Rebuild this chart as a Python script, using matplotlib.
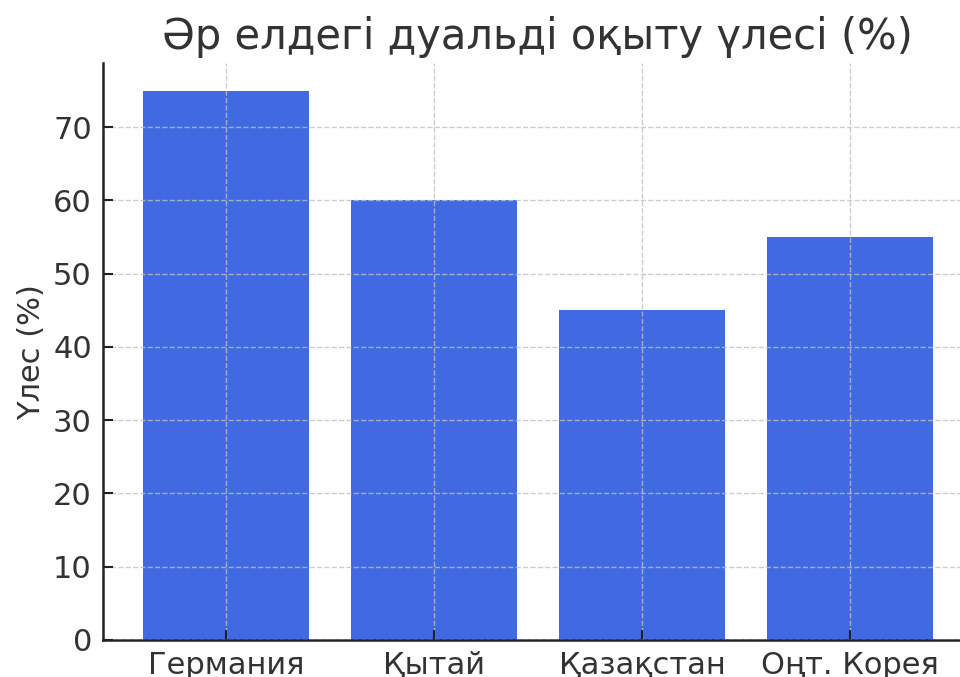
import matplotlib
matplotlib.use("Agg")
import matplotlib.pyplot as plt

# data
countries = ["Германия", "Қытай", "Қазақстан", "Оңт. Корея"]
shares = [75, 60, 45, 55]

plt.rcParams['font.family'] = ['DejaVu Sans']

fig = plt.figure(figsize=(9.6, 6.77), dpi=100)
ax = fig.add_axes([0.1073, 0.0547, 0.906, 0.852])

ax.bar(countries, shares, color='#4169E1', width=0.8, zorder=1)

ax.set_title("Әр елдегі дуальді оқыту үлесі (%)", fontsize=30, color='#333333', pad=10)
ax.set_ylabel("Үлес (%)", fontsize=22, color='#333333', labelpad=5)
ax.tick_params(axis='both', labelsize=22, colors='#222222', labelcolor='#333333',
               direction='in', length=7, width=1.5, pad=8)
ax.set_axisbelow(False)
ax.grid(True, linestyle='--', color='#c0c0c0', linewidth=1, alpha=0.8, zorder=3)
ax.spines['top'].set_visible(False)
ax.spines['right'].set_visible(False)
for s in ['left', 'bottom']:
    ax.spines[s].set_linewidth(1.8)
    ax.spines[s].set_color('#222222')

fig.savefig("out.png", dpi=100)
